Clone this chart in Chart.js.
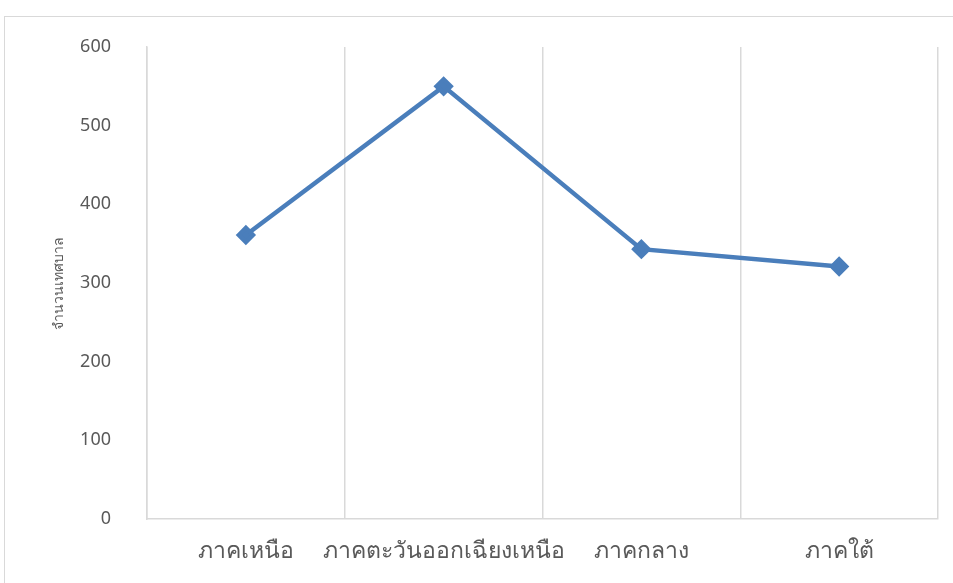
<!DOCTYPE html>
<html>
<head>
<meta charset="utf-8">
<script src="https://cdn.jsdelivr.net/npm/chart.js@4"></script>
<style>
  body { margin: 0; background: #fff; width: 953px; height: 583px; overflow: hidden; position: relative; }
  #frame { position: absolute; left: 4px; top: 16px; width: 980px; height: 600px; border: 1px solid #d9d9d9; box-sizing: border-box; }
  #wrap { position: absolute; left: 0; top: 0; width: 953px; height: 583px; }
</style>
</head>
<body>
<div id="frame"></div>
<div id="wrap"><canvas id="regionChart"></canvas></div>
<script>
// Data
const regions = ["ภาคเหนือ", "ภาคตะวันออกเฉียงเหนือ", "ภาคกลาง", "ภาคใต้"];
const municipalities = [361, 550, 343, 321];
const yTicks = [0, 100, 200, 300, 400, 500, 600];
const yTitle = "จำนวนเทศบาล";

const labelFont = "'Noto Sans', 'DejaVu Sans', sans-serif";
const gridColor = "#d9d9d9";
const textColor = "#595959";

new Chart(document.getElementById("regionChart"), {
    type: 'line',
    data: {
        labels: regions,
        datasets: [{
            data: municipalities,
            borderColor: '#4a7ebb',
            backgroundColor: '#4a7ebb',
            borderWidth: 4.5,
            pointStyle: 'rectRot',
            pointRadius: 7,
            pointHoverRadius: 7,
            tension: 0
        }]
    },
    options: {
        responsive: true,
        maintainAspectRatio: false,
        animation: false,
        layout: { padding: { left: 0, right: 15, top: 47, bottom: 0 } },
        plugins: {
            legend: { display: false },
            tooltip: { enabled: false }
        },
        scales: {
            x: {
                offset: true,
                grid: { display: true, offset: true, color: gridColor, drawTicks: false, lineWidth: 1.5 },
                border: { display: true, color: gridColor, width: 1.5 },
                ticks: { color: textColor, font: { family: labelFont, size: 23 }, padding: 19, maxRotation: 0, autoSkip: false },
                afterFit: scale => { scale.height = 64; }
            },
            y: {
                min: yTicks[0],
                max: yTicks[yTicks.length - 1],
                grid: { display: false },
                border: { display: true, color: gridColor, width: 1.5 },
                ticks: { stepSize: 100, color: textColor, font: { family: labelFont, size: 18 }, padding: 28 },
                title: {
                    display: true,
                    text: yTitle,
                    color: textColor,
                    font: { family: labelFont, size: 14 },
                    padding: { top: 51, bottom: 0 }
                },
                afterFit: scale => { scale.width = 147; }
            }
        }
    }
});
</script>
</body>
</html>
